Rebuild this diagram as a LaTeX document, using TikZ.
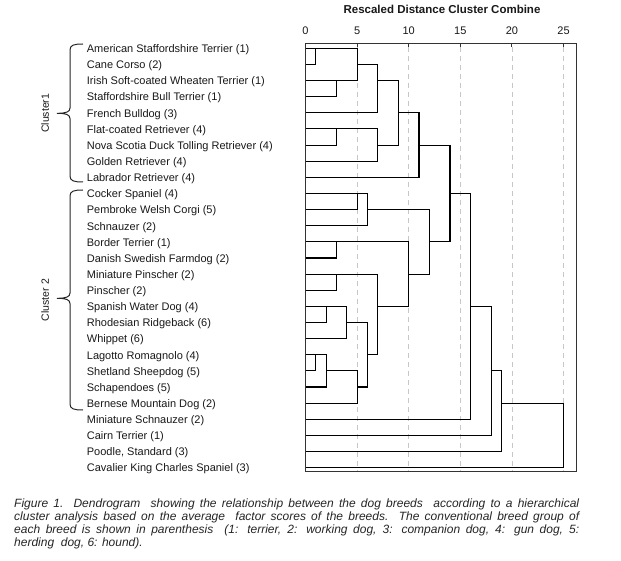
\documentclass[tikz,border=0pt]{standalone}
\usepackage{fontspec}
\setmainfont{Liberation Sans}
\newcommand\dhs[3]{\draw[dendro] ({305.5+10.32*#2},{48.3+16.13*#1}) -- ({305.5+10.32*#3},{48.3+16.13*#1});}
\newcommand\dvs[3]{\draw[dendro] ({305.5+10.32*#1},{48.3+16.13*#2}) -- ({305.5+10.32*#1},{48.3+16.13*#3});}
\begin{document}
\begin{tikzpicture}[x=1pt,y=-1pt,
  dendro/.style={line width=1.1pt, black, line cap=rect},
  frameline/.style={line width=1pt, black!80},
  gridline/.style={line width=0.8pt, black!22, dash pattern=on 5pt off 4pt},
  leaf/.style={anchor=base west, inner sep=0pt, font=\fontsize{11}{13}\selectfont, text=black!90},
  ticklab/.style={anchor=base, inner sep=0pt, font=\fontsize{11}{13}\selectfont, text=black!90},
  brace/.style={line width=1pt, black!85},
  clab/.style={rotate=90, inner sep=0pt, font=\fontsize{10.5}{12}\selectfont, text=black!90}]
\useasboundingbox[fill=white] (0,0) rectangle (621,561);

% title and axis
\node[anchor=base, inner sep=0pt, font=\fontsize{11.5}{13}\selectfont\bfseries, text=black!90] (title) at (442,14) {Rescaled Distance Cluster Combine};
\foreach \d in {5,10,...,25}
  \draw[gridline] ({305.5+10.32*\d},47) -- ({305.5+10.32*\d},471.7);
\foreach \d in {0,5,...,25}{
  \node[ticklab] (t\d) at ({305.5+10.32*\d},34.3) {\d};
  \draw[frameline] ({305.5+10.32*\d},43.3) -- ({305.5+10.32*\d},46.8);
}

% leaf labels
\foreach \t [count=\i from 0] in {
  American Staffordshire Terrier (1),
  Cane Corso (2),
  Irish Soft-coated Wheaten Terrier (1),
  Staffordshire Bull Terrier (1),
  French Bulldog (3),
  Flat-coated Retriever (4),
  Nova Scotia Duck Tolling Retriever (4),
  Golden Retriever (4),
  Labrador Retriever (4),
  Cocker Spaniel (4),
  Pembroke Welsh Corgi (5),
  Schnauzer (2),
  Border Terrier (1),
  Danish Swedish Farmdog (2),
  Miniature Pinscher (2),
  Pinscher (2),
  Spanish Water Dog (4),
  Rhodesian Ridgeback (6),
  Whippet (6),
  Lagotto Romagnolo (4),
  Shetland Sheepdog (5),
  Schapendoes (5),
  Bernese Mountain Dog (2),
  Miniature Schnauzer (2),
  Cairn Terrier (1),
  {Poodle, Standard (3)},
  Cavalier King Charles Spaniel (3)}
  \node[leaf] (l\i) at (86.7,{48.3+16.13*\i+4.3}) {\t};

% leaf lines
\dhs{0}{0}{5}  \dhs{1}{0}{1}  \dhs{2}{0}{5}  \dhs{3}{0}{3}
\dhs{4}{0}{7}  \dhs{5}{0}{7}  \dhs{6}{0}{3}  \dhs{7}{0}{7}
\dhs{8}{0}{11} \dhs{9}{0}{6}  \dhs{10}{0}{5} \dhs{11}{0}{6}
\dhs{12}{0}{10}\dhs{13}{0}{3} \dhs{14}{0}{7} \dhs{15}{0}{3}
\dhs{16}{0}{4} \dhs{17}{0}{2} \dhs{18}{0}{4} \dhs{19}{0}{2}
\dhs{20}{0}{1} \dhs{21}{0}{2} \dhs{22}{0}{5} \dhs{23}{0}{16}
\dhs{24}{0}{18}\dhs{25}{0}{19}\dhs{26}{0}{25}

% cluster output lines
\dhs{1}{5}{7}   \dhs{2}{7}{9}   \dhs{4}{9}{11}  \dhs{6}{7}{9}
\dhs{6}{11}{14} \dhs{9}{14}{16} \dhs{10}{6}{12} \dhs{17}{4}{6}
\dhs{20}{2}{5}  \dhs{21}{5}{6}  \dhs{19}{6}{7}  \dhs{16}{7}{10}
\dhs{14}{10}{12}\dhs{12}{12}{14}\dhs{16}{16}{18}\dhs{20}{18}{19}
\dhs{22}{19}{25}

% merge verticals
\dvs{1}{0}{1}   \dvs{3}{2}{3}   \dvs{5}{0}{2}   \dvs{7}{1}{4}
\dvs{3}{5}{6}   \dvs{7}{5}{7}   \dvs{9}{2}{6}   \dvs{11}{4}{8}
\dvs{5}{9}{10}  \dvs{6}{9}{11}  \dvs{3}{12}{13} \dvs{3}{14}{15}
\dvs{2}{16}{17} \dvs{4}{16}{18} \dvs{1}{19}{20} \dvs{2}{19}{21}
\dvs{5}{20}{22} \dvs{6}{17}{21} \dvs{7}{14}{19} \dvs{10}{12}{16}
\dvs{12}{10}{14}\dvs{14}{6}{12}  \dvs{16}{9}{23} \dvs{18}{16}{24}
\dvs{19}{20}{25}\dvs{25}{22}{26}

% frame
\draw[frameline] (305.5,43.3) rectangle (576.7,471.7);

% cluster brackets
\draw[brace] (83,44) .. controls (74,44) and (70,45) .. (70,50) -- (70,108)
  .. controls (70,112) and (66,113.3) .. (57,113.3)
  .. controls (66,113.3) and (70,114.6) .. (70,118.6) -- (70,176)
  .. controls (70,181) and (74,182) .. (83,182);
\node[clab] (c1) at (45,113.3) {Cluster1};
\draw[brace] (83,190) .. controls (74,190) and (70,191) .. (70,196) -- (70,293)
  .. controls (70,297) and (66,298.3) .. (57,298.3)
  .. controls (66,298.3) and (70,299.6) .. (70,303.6) -- (70,404)
  .. controls (70,409) and (74,410) .. (83,410);
\node[clab] (c2) at (45,300) {Cluster 2};

% caption
\node[anchor=north west, inner sep=0pt, text width=565pt, align=justify,
  font=\fontsize{12}{13.1}\selectfont\itshape, text=black!85] (cap) at (14,498.5)
  {Figure 1. Dendrogram\ \ showing the relationship between the dog breeds\ \ according to a hierarchical\linebreak
   cluster analysis based on the average\ \ factor scores of the breeds.\ \ The conventional breed group of\linebreak
   each breed is shown in parenthesis\ \ (1: terrier, 2: working dog, 3: companion dog, 4: gun dog, 5:\linebreak
   herding\ \ dog, 6: hound).};
\end{tikzpicture}
\end{document}
